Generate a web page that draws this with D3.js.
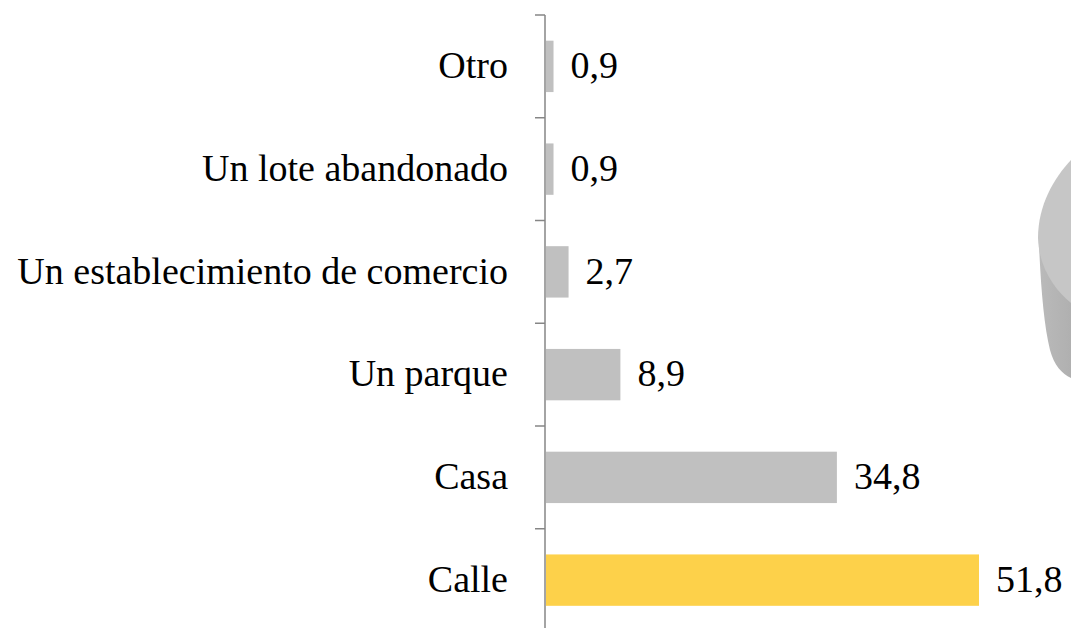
<!DOCTYPE html>
<html>
<head>
<meta charset="utf-8">
<script src="https://cdn.jsdelivr.net/npm/d3@7"></script>
<style>
  html, body { margin: 0; padding: 0; background: #fff; }
  svg { display: block; }
</style>
</head>
<body>
<svg id="chart" width="1071" height="628"></svg>
<script>
const categories = ["Otro", "Un lote abandonado", "Un establecimiento de comercio", "Un parque", "Casa", "Calle"];
const values = [0.9, 0.9, 2.7, 8.9, 34.8, 51.8];
const valueLabels = ["0,9", "0,9", "2,7", "8,9", "34,8", "51,8"];
const highlight = ["Calle"];

const FONT = "'Liberation Serif', 'DejaVu Serif', 'Times New Roman', Times, serif";
const svg = d3.select("#chart");
const W = 1071, H = 628;
const axisX = 545;

const y = d3.scaleBand().domain(categories).range([15, 631.5]).paddingInner(0.5).paddingOuter(0.25);
const x = d3.scaleLinear().domain([0, 51.8]).range([axisX + 1, 979]);

// decorative 3D pie fragment at right edge
const deco = svg.append("g");
const grad = svg.append("defs").append("linearGradient").attr("id", "sideGrad")
  .attr("x1", "0").attr("x2", "1").attr("y1", "0").attr("y2", "0");
grad.append("stop").attr("offset", "0").attr("stop-color", "#bababa");
grad.append("stop").attr("offset", "1").attr("stop-color", "#b0b0b0");
deco.append("path")
  .attr("d", "M1039,245 C1041,290 1044,325 1050,350 C1054,365 1062,374 1071,378 L1071,300 C1058,290 1044,275 1039,245 Z")
  .attr("fill", "url(#sideGrad)");
deco.append("path")
  .attr("d", "M1071,160 C1054,178 1038,205 1038,238 C1039,268 1055,290 1071,303 Z")
  .attr("fill", "#c6c6c6");

// bars
svg.append("g").selectAll("rect").data(categories).join("rect")
  .attr("x", x(0))
  .attr("y", d => y(d))
  .attr("width", (d, i) => x(values[i]) - x(0))
  .attr("height", y.bandwidth())
  .attr("fill", d => highlight.includes(d) ? "#fdd14a" : "#c0c0c0");

// value labels
svg.append("g").selectAll("text").data(categories).join("text")
  .attr("x", (d, i) => x(values[i]) + 17)
  .attr("y", d => y(d) + y.bandwidth() / 2)
  .attr("dy", "0.31em")
  .attr("font-family", FONT)
  .attr("font-size", 38)
  .attr("fill", "#000")
  .text((d, i) => valueLabels[i]);

// axis line
const g = svg.append("g");
g.append("line").attr("x1", axisX).attr("x2", axisX).attr("y1", 15).attr("y2", H)
  .attr("stroke", "#868686").attr("stroke-width", 1.5);
// ticks between categories
const step = y.step();
const tickYs = d3.range(categories.length + 1).map(i => y(categories[0]) - y.paddingOuter() * step + i * step);
g.selectAll("line.tick").data(tickYs).join("line").attr("class", "tick")
  .attr("x1", axisX - 10).attr("x2", axisX).attr("y1", d => d).attr("y2", d => d)
  .attr("stroke", "#868686").attr("stroke-width", 1.5);

// category labels
g.selectAll("text").data(categories).join("text")
  .attr("x", 508)
  .attr("y", d => y(d) + y.bandwidth() / 2)
  .attr("dy", "0.31em")
  .attr("text-anchor", "end")
  .attr("font-family", FONT)
  .attr("font-size", 38)
  .attr("fill", "#000")
  .text(d => d);
</script>
</body>
</html>
